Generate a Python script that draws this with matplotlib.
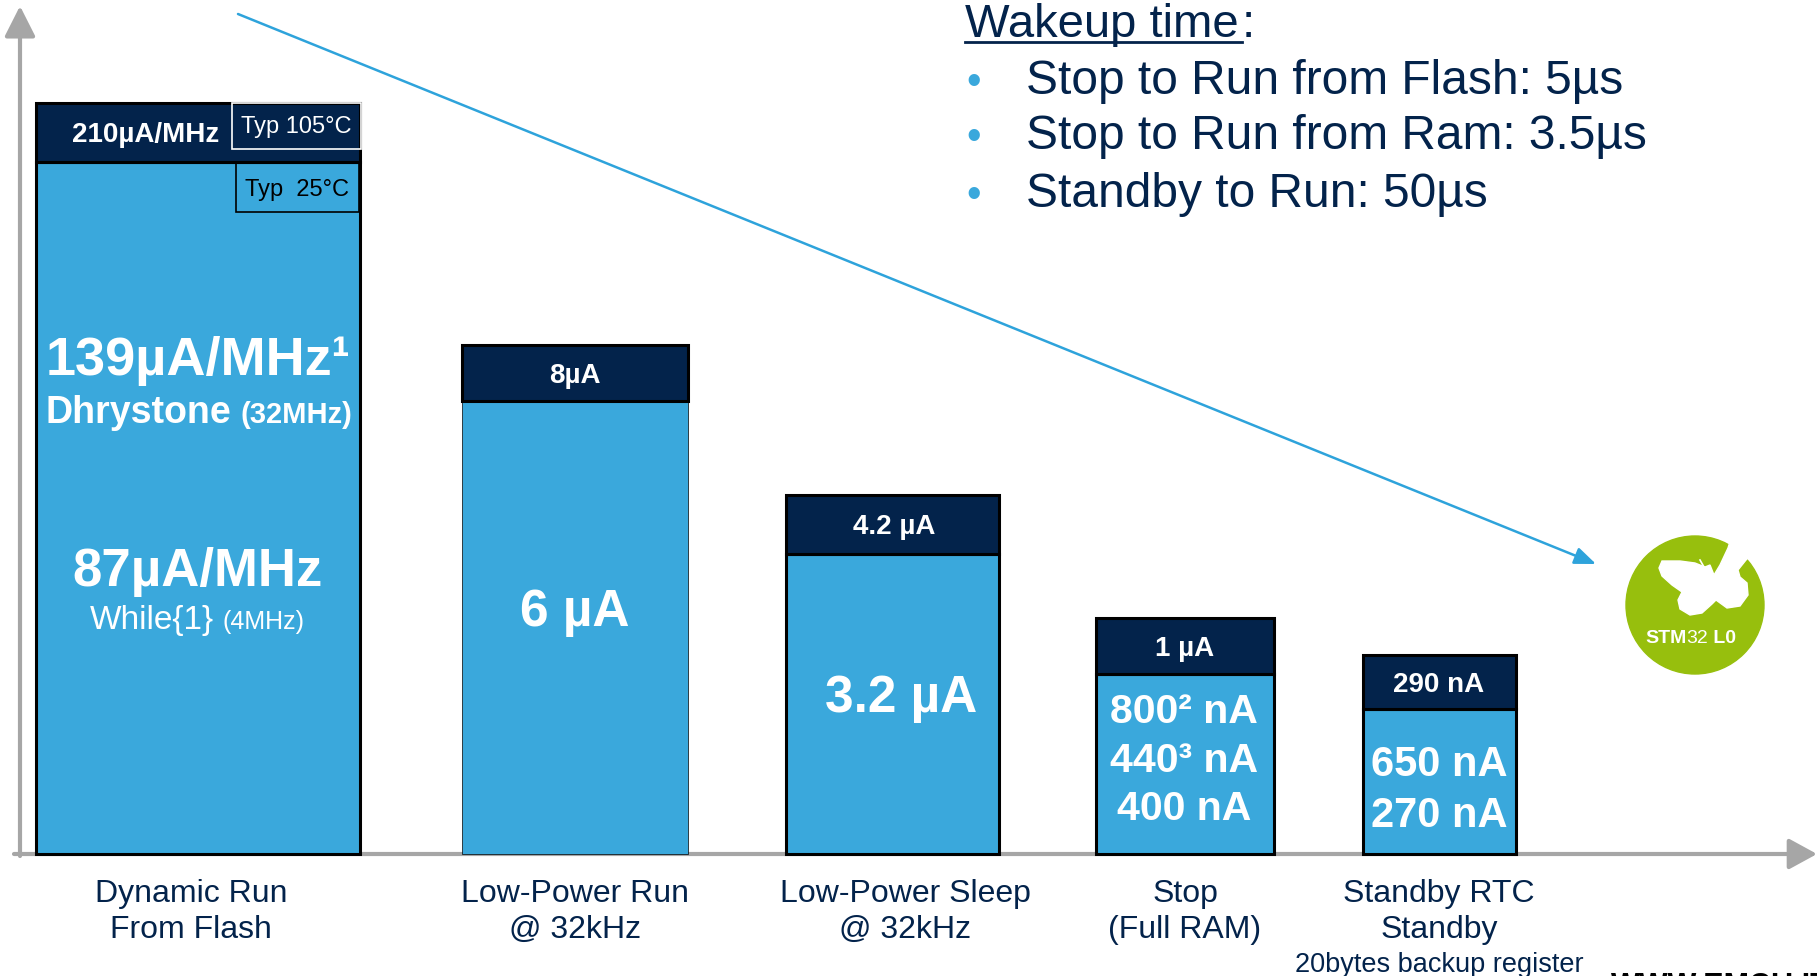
import matplotlib.pyplot as plt
from matplotlib.patches import Rectangle, Circle, Polygon
import numpy as np

plt.rcParams['font.family'] = ['Liberation Sans', 'DejaVu Sans']

# chart data (heights are in pixel-like units above the x axis)
modes = ['Dynamic Run\nFrom Flash', 'Low-Power Run\n@ 32kHz', 'Low-Power Sleep\n@ 32kHz',
         'Stop\n(Full RAM)', 'Standby RTC\nStandby']
x_pos = [198, 575, 892, 1185, 1439]
bar_widths = [324, 226, 213, 178, 153]
typ25_height = [692, 453, 300, 180, 145]
typ105_height = [751, 509, 359, 236, 199]
top_labels = ['210µA/MHz', '8µA', '4.2 µA', '1 µA', '290 nA']
top_label_dx = [-52, 0, 2, 0, 0]
mode_label_dx = [-7, 0, 13, 0, 0]
wakeup = ['Stop to Run from Flash: 5µs', 'Stop to Run from Ram: 3.5µs', 'Standby to Run: 50µs']

light = '#3AA8DC'
navy = '#03234B'
grey = '#A6A6A6'
green = '#97BF0D'

H = 854  # x axis line, in px from top


def Y(py):
    return H - py


fig = plt.figure(figsize=(18.17, 9.76), dpi=100)
ax = fig.add_axes([0, 0, 1, 1])
ax.set_xlim(0, 1817)
ax.set_ylim(-122, 854)
ax.axis('off')

# bars
ax.bar(x_pos, typ25_height, width=bar_widths, color=light, edgecolor='black',
       linewidth=[2.2, 0.5, 2.2, 2.2, 2.2], zorder=2)
ax.bar(x_pos, np.subtract(typ105_height, typ25_height), bottom=typ25_height, width=bar_widths,
       color=navy, edgecolor='black', linewidth=2.2, zorder=2)

for i in range(len(x_pos)):
    mid = (typ25_height[i] + typ105_height[i]) / 2
    ax.text(x_pos[i] + top_label_dx[i], mid - 10, top_labels[i], color='white', fontsize=20,
            fontweight='bold', ha='center', va='baseline', zorder=4)
    ax.text(x_pos[i] + mode_label_dx[i], Y(938), modes[i], color=navy, fontsize=23,
            ha='center', va='baseline', linespacing=1.27, zorder=4)
ax.text(x_pos[4], Y(972), '20bytes backup register', color=navy, fontsize=19.5, ha='center',
        va='baseline')

# axes arrows
ax.annotate('', xy=(1817, 0), xytext=(14, 0),
            arrowprops=dict(arrowstyle='-|>,head_length=0.86,head_width=0.47', mutation_scale=20,
                            color=grey, lw=3, shrinkA=0, shrinkB=0), zorder=1)
ax.annotate('', xy=(20, Y(6)), xytext=(20, -2),
            arrowprops=dict(arrowstyle='-|>,head_length=0.93,head_width=0.47', mutation_scale=20,
                            color=grey, lw=3, shrinkA=0, shrinkB=0), zorder=1)

# trend arrow
ax.annotate('', xy=(1596, Y(564)), xytext=(238, Y(14)),
            arrowprops=dict(arrowstyle='-|>,head_length=0.65,head_width=0.26', mutation_scale=20,
                            color='#2EA3DB', lw=1.8, shrinkA=0, shrinkB=0), zorder=3)

# bar 1 details
ax.add_patch(Rectangle((232, Y(149)), 129, 46, fill=False, edgecolor='white', lw=1.2, zorder=3))
ax.text(296, Y(133), 'Typ 105°C', color='white', fontsize=17, ha='center', va='baseline', zorder=4)
ax.add_patch(Rectangle((236, Y(212)), 123, 49, fill=False, edgecolor='black', lw=1.2, zorder=3))
ax.text(297, Y(196), 'Typ  25°C', color='black', fontsize=17, ha='center', va='baseline', zorder=4)

ax.text(198, Y(375), '139µA/MHz¹', color='white', fontsize=39, fontweight='bold',
        ha='center', va='baseline', zorder=4)
ax.text(231, Y(423), 'Dhrystone', color='white', fontsize=27, fontweight='bold',
        ha='right', va='baseline', zorder=4)
ax.text(241, Y(423), '(32MHz)', color='white', fontsize=21, fontweight='bold',
        ha='left', va='baseline', zorder=4)
ax.text(198, Y(586), '87µA/MHz', color='white', fontsize=38, fontweight='bold',
        ha='center', va='baseline', zorder=4)
ax.text(214, Y(629), 'While{1}', color='white', fontsize=24, ha='right', va='baseline', zorder=4)
ax.text(223, Y(629), '(4MHz)', color='white', fontsize=18, ha='left', va='baseline', zorder=4)

# values inside the other bars
ax.text(575, Y(626), '6 µA', color='white', fontsize=37, fontweight='bold', ha='center',
        va='baseline', zorder=4)
ax.text(901, Y(712), '3.2 µA', color='white', fontsize=37, fontweight='bold', ha='center',
        va='baseline', zorder=4)
for txt, py in zip(['800² nA', '440³ nA', '400 nA'], [723, 772, 820]):
    ax.text(1184, Y(py), txt, color='white', fontsize=29.5, fontweight='bold', ha='center',
            va='baseline', zorder=4)
for txt, py in zip(['650 nA', '270 nA'], [776, 827]):
    ax.text(1439, Y(py), txt, color='white', fontsize=30, fontweight='bold', ha='center',
            va='baseline', zorder=4)

# wakeup time block
ax.text(965, Y(37), 'Wakeup time', color=navy, fontsize=34, ha='left', va='baseline')
ax.text(1242, Y(37), ':', color=navy, fontsize=34, ha='left', va='baseline')
ax.plot([965, 1242], [Y(42), Y(42)], color=navy, lw=2)
for i, line in enumerate(wakeup):
    py = [94, 149, 207][i]
    ax.text(966, Y(py), '•', color=light, fontsize=30, ha='left', va='baseline')
    ax.text(1026, Y(py), line, color=navy, fontsize=34.5, ha='left', va='baseline')

# STM32 L0 badge
ax.add_patch(Circle((1695, Y(605)), 69, color=green, zorder=2))
fly = [(1705, 567), (1695, 563), (1680, 561), (1662, 561), (1659, 568), (1662, 576),
       (1672, 585), (1682, 592), (1678, 600), (1680, 609), (1690, 615), (1702, 613),
       (1712, 604), (1716, 600), (1727, 608), (1740, 606), (1748, 595), (1747, 583),
       (1740, 577), (1738, 570), (1746, 560), (1758, 548), (1733, 532), (1728, 548),
       (1720, 565), (1714, 575), (1710, 565)]
ax.add_patch(Polygon([(px, Y(py)) for px, py in fly], closed=True, color='white', zorder=3))
ax.plot([1704, 1700], [Y(567), Y(560)], color='white', lw=1.2, zorder=3)
t1 = ax.text(1645, Y(643), 'STM', color='white', fontsize=14, fontweight='bold',
             ha='left', va='baseline', zorder=4)
t2 = ax.annotate('32', xy=(1, 0), xycoords=t1, color='white', fontsize=14,
                 ha='left', va='bottom', zorder=4)
ax.annotate(' L0', xy=(1, 0), xycoords=t2, color='white', fontsize=14, fontweight='bold',
            ha='left', va='bottom', zorder=4)

# watermark, cut by the bottom edge
ax.text(1611, Y(972), 'WWW.EMCU.IT', color='black', fontsize=22, fontweight='bold',
        ha='left', va='top')

fig.savefig('out.png', dpi=100)
